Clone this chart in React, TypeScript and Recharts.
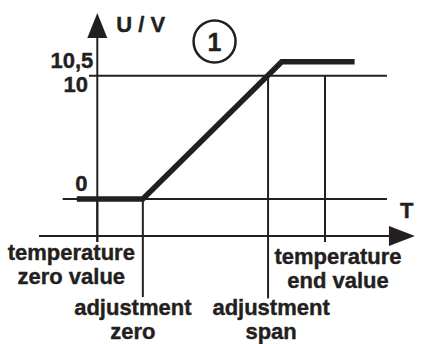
import React from 'react';
import { LineChart, Line, XAxis, YAxis, ReferenceLine, ReferenceDot } from 'recharts';

// temperature marks (T in arbitrary units: zero value = 0, end value = 100)
const markerT = [0, 20, 75, 100];
const markerLabels = [
  ['temperature', 'zero value'],
  ['adjustment', 'zero'],
  ['adjustment', 'span'],
  ['temperature', 'end value'],
];

// output voltage characteristic
const curveT = [-9, 20, 81, 113];
const curveU = [0, 0, 10.5, 10.5];

// voltage levels
const levelU = [0, 10];
const levelLabels = ['0', '10'];
const ceilingU = 10.5;
const ceilingLabel = '10,5';

const data = curveT.map((t, i) => ({ t, u: curveU[i] }));

const INK = '#231f20';
const FONT = '"Liberation Sans", Arial, Helvetica, sans-serif';
const FS = 22;

// layout of the drawing (ref-axis volts / T units), not data
const markerLayout = [
  { from: 0, to: -3.49, dx: -26, dy: 18 },
  { from: 0, to: -7.95, dx: -10, dy: 18 },
  { from: 10, to: -8.06, dx: 3, dy: 17 },
  { from: 10, to: -3.49, dx: 13, dy: 21.5 },
];
const levelLayout = [
  { left: -15.2, right: 127.2, tx: 12.5, ty: -8, anchor: 'start' },
  { left: -3.65, right: 127.2, tx: -1, ty: 16, anchor: 'end' },
];

const txt = (x: number, y: number, s: string, anchor = 'middle', size = FS) => (
  <text
    x={x}
    y={y}
    textAnchor={anchor}
    fontFamily={FONT}
    fontWeight="bold"
    fontSize={size}
    fill={INK}
    stroke={INK}
    strokeWidth={0.4}
  >
    {s}
  </text>
);

export default function App() {
  return (
    <div style={{ position: 'absolute', left: 0, top: 0, width: 422, height: 344, background: '#fff' }}>
      <LineChart width={422} height={344} data={data} margin={{ top: 0, right: 0, bottom: 0, left: 0 }}>
        <XAxis dataKey="t" type="number" domain={[-42.73, 142.6]} hide />
        <YAxis yAxisId="curve" type="number" domain={[-11.089, 15.219]} hide />
        <YAxis yAxisId="ref" type="number" domain={[-11.759, 16.14]} hide />

        {/* keeps the reference axis registered */}
        <Line
          yAxisId="ref"
          dataKey="u"
          stroke="none"
          dot={false}
          activeDot={false}
          isAnimationActive={false}
        />

        {/* U axis */}
        <ReferenceLine
          yAxisId="ref"
          ifOverflow="visible"
          segment={[{ x: 0, y: -3.49 }, { x: 0, y: 15.08 }]}
          shape={(p: any) => {
            const x = p.x1;
            const top = Math.min(p.y1, p.y2);
            const bottom = Math.max(p.y1, p.y2);
            return (
              <g>
                <line x1={x} y1={bottom} x2={x} y2={top + 24} stroke={INK} strokeWidth={2} />
                <polygon points={`${x - 10},${top + 25} ${x + 10},${top + 25} ${x},${top}`} fill={INK} />
                {txt(x + 19, top + 19, 'U / V', 'start')}
              </g>
            );
          }}
        />

        {/* T axis */}
        <ReferenceLine
          yAxisId="ref"
          ifOverflow="visible"
          segment={[{ x: -25.6, y: -3.0 }, { x: 139.5, y: -3.0 }]}
          shape={(p: any) => {
            const y = p.y1;
            const left = Math.min(p.x1, p.x2);
            const tip = Math.max(p.x1, p.x2);
            return (
              <g>
                <line x1={left} y1={y} x2={tip - 25} y2={y} stroke={INK} strokeWidth={2} />
                <polygon points={`${tip - 26},${y - 10} ${tip - 26},${y + 10} ${tip},${y}`} fill={INK} />
                {txt(tip - 15, y - 18, 'T', 'start')}
              </g>
            );
          }}
        />

        {/* voltage levels */}
        {levelU.map((u, i) => {
          const l = levelLayout[i];
          return (
            <ReferenceLine
              key={`lv${i}`}
              yAxisId="ref"
              ifOverflow="visible"
              segment={[{ x: l.left, y: u }, { x: l.right, y: u }]}
              shape={(p: any) => {
                const left = Math.min(p.x1, p.x2);
                return (
                  <g>
                    <line x1={p.x1} y1={p.y1} x2={p.x2} y2={p.y2} stroke={INK} strokeWidth={2} />
                    {txt(left + l.tx, p.y1 + l.ty, levelLabels[i], l.anchor)}
                  </g>
                );
              }}
            />
          );
        })}

        {/* temperature markers */}
        {markerT.map((t, i) => {
          const m = markerLayout[i];
          return (
            <ReferenceLine
              key={`mk${i}`}
              yAxisId="ref"
              ifOverflow="visible"
              segment={[{ x: t, y: m.from }, { x: t, y: m.to }]}
              shape={(p: any) => {
                const bottom = Math.max(p.y1, p.y2);
                const top = Math.min(p.y1, p.y2);
                const cx = p.x1 + m.dx;
                return (
                  <g>
                    <line x1={p.x1} y1={top} x2={p.x1} y2={bottom} stroke={INK} strokeWidth={2} />
                    {txt(cx, bottom + m.dy, markerLabels[i][0])}
                    {txt(cx, bottom + m.dy + 24, markerLabels[i][1])}
                  </g>
                );
              }}
            />
          );
        })}

        {/* 10,5 label at the ceiling */}
        <ReferenceDot
          yAxisId="curve"
          x={0}
          y={ceilingU}
          ifOverflow="visible"
          shape={(p: any) => txt(p.cx - 4, p.cy + 6, ceilingLabel, 'end')}
        />

        {/* curve number */}
        <ReferenceDot
          yAxisId="ref"
          x={51.5}
          y={12.77}
          ifOverflow="visible"
          shape={(p: any) => (
            <g>
              <circle cx={p.cx} cy={p.cy} r={21} fill="#fff" stroke={INK} strokeWidth={2.5} />
              {txt(p.cx, p.cy + 9, '1', 'middle', 25)}
            </g>
          )}
        />

        <Line
          yAxisId="curve"
          type="linear"
          dataKey="u"
          stroke={INK}
          strokeWidth={5.5}
          strokeLinejoin="miter"
          dot={false}
          activeDot={false}
          isAnimationActive={false}
        />
      </LineChart>
    </div>
  );
}
